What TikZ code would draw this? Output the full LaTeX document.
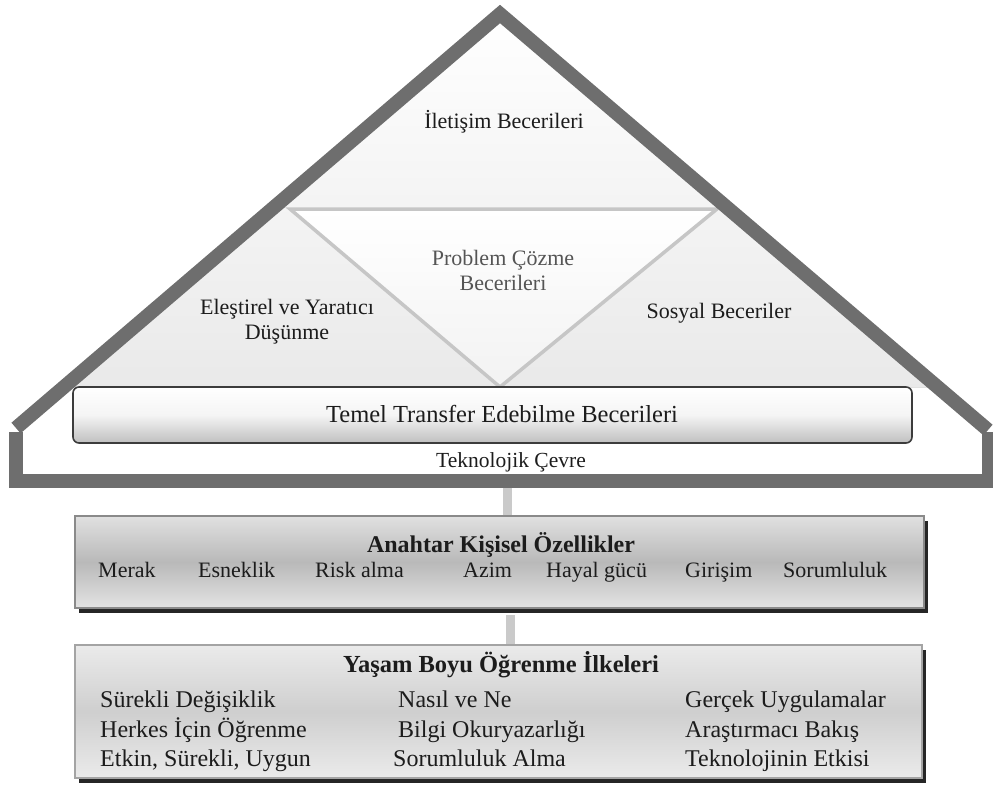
\documentclass[tikz,border=0pt]{standalone}
\usepackage{fontspec}
\setmainfont{Liberation Serif}
\usetikzlibrary{shadows}

\definecolor{roofgray}{HTML}{6E6E6E}
\definecolor{seamgray}{HTML}{C6C6C6}
\definecolor{linkgray}{HTML}{CACACA}
\definecolor{inkgray}{HTML}{1C1C1C}
\definecolor{softink}{HTML}{555555}
\definecolor{barline}{HTML}{3C3C3C}
\definecolor{boxline}{HTML}{8A8A8A}
\definecolor{boxlinelight}{HTML}{A4A4A4}

\begin{document}
\begin{tikzpicture}[x=1pt,y=-1pt,
  roof/.style={draw=roofgray,line width=14pt,line join=miter},
  seam/.style={draw=seamgray,line width=3.5pt,line join=miter},
  link/.style={draw=linkgray,line width=9pt},
  label/.style={inner sep=0pt,text=inkgray},
  roomtext/.style={label,font=\fontsize{22}{25}\selectfont,align=center},
  bartext/.style={label,font=\fontsize{24.5}{28}\selectfont},
  envtext/.style={label,font=\fontsize{21.5}{25}\selectfont},
  headtext/.style={label,font=\bfseries\fontsize{24}{28}\selectfont},
  itemtext/.style={label,font=\fontsize{22}{26}\selectfont,anchor=base west},
  ruletext/.style={label,font=\fontsize{24}{28}\selectfont,anchor=base west},
  basebar/.style={draw=barline,line width=1.6pt,rounded corners=6pt,
    top color=white,bottom color=gray!50,middle color=gray!8,
    minimum width=839pt,minimum height=56pt,inner sep=0pt},
  traitbox/.style={draw=boxline,line width=2.5pt,
    top color=gray!24,bottom color=gray!22,middle color=gray!55,
    minimum width=849pt,minimum height=92pt,inner sep=0pt,
    drop shadow={shadow xshift=4pt,shadow yshift=-4.5pt,fill=black!85,opacity=1}},
  rulebox/.style={draw=boxlinelight,line width=2.5pt,
    top color=gray!16,bottom color=gray!16,middle color=gray!38,
    minimum width=847pt,minimum height=133pt,inner sep=0pt,
    drop shadow={shadow xshift=3.5pt,shadow yshift=-4.5pt,fill=black!85,opacity=1}},
]
\useasboundingbox (0,0) rectangle (993,787);

% attic of the house: shaded roof space, inner triangle and seams
\fill[top color=white,bottom color=gray!17] (64,387) -- (500,14) -- (938,387) -- cycle;
\fill[top color=white,bottom color=gray!10] (290,209) -- (717,209) -- (500,387) -- cycle;
\draw[seam] (290,209) -- (717,209) -- (500,387) -- cycle;

% roof and walls
\draw[roof] (16,428) -- (500,14) -- (988,430);
\draw[roof] (16,432) -- (16,481) -- (989,481) -- (989,432);

% room labels (multi-line nodes sit on the baseline of their last line)
\node[roomtext] (talk) at (504,128) [anchor=base] {İletişim Becerileri};
\node[roomtext,text=softink] (solve) at (503,290) [anchor=base] {Problem Çözme\\Becerileri};
\node[roomtext] (think) at (287,339) [anchor=base] {Eleştirel ve Yaratıcı\\Düşünme};
\node[roomtext] (social) at (719,318) [anchor=base] {Sosyal Beceriler};

% foundation bar and surroundings
\node[basebar] (base) at (492.5,415) {};
\node[bartext,anchor=base] (baselabel) at (502,422) {Temel Transfer Edebilme Becerileri};
\node[envtext,anchor=base] (env) at (511,467) {Teknolojik Çevre};

% the two layers below, joined to the house by short links
\coordinate (houseFoot) at (507,488);
\coordinate (traitFoot) at (510,605);
\node[traitbox] (traits) at (499.5,562) {};
\node[rulebox] (rules) at (498.5,711.5) {};
\draw[link] (houseFoot) -- (houseFoot |- traits.north);
\draw[link] (traitFoot |- traits.south) ++(0,6) -- (traitFoot |- rules.north);

% key personal traits
\node[headtext,anchor=base] (traitshead) at (501,552) {Anahtar Kişisel Özellikler};
\node[itemtext] (t1) at (98,577) {Merak};
\node[itemtext] (t2) at (198,577) {Esneklik};
\node[itemtext] (t3) at (315,577) {Risk alma};
\node[itemtext] (t4) at (463,577) {Azim};
\node[itemtext] (t5) at (546,577) {Hayal gücü};
\node[itemtext] (t6) at (685,577) {Girişim};
\node[itemtext] (t7) at (783,577) {Sorumluluk};

% lifelong learning principles
\node[headtext,anchor=base,font=\bfseries\fontsize{24.5}{28}\selectfont] (ruleshead) at (501,672) {Yaşam Boyu Öğrenme İlkeleri};
\node[ruletext] (r11) at (100,707) {Sürekli Değişiklik};
\node[ruletext] (r21) at (100,737) {Herkes İçin Öğrenme};
\node[ruletext] (r31) at (100,766) {Etkin, Sürekli, Uygun};
\node[ruletext] (r12) at (398,707) {Nasıl ve Ne};
\node[ruletext] (r22) at (398,737) {Bilgi Okuryazarlığı};
\node[ruletext] (r32) at (393,766) {Sorumluluk Alma};
\node[ruletext] (r13) at (685,707) {Gerçek Uygulamalar};
\node[ruletext] (r23) at (685,737) {Araştırmacı Bakış};
\node[ruletext] (r33) at (685,766) {Teknolojinin Etkisi};
\end{tikzpicture}
\end{document}
